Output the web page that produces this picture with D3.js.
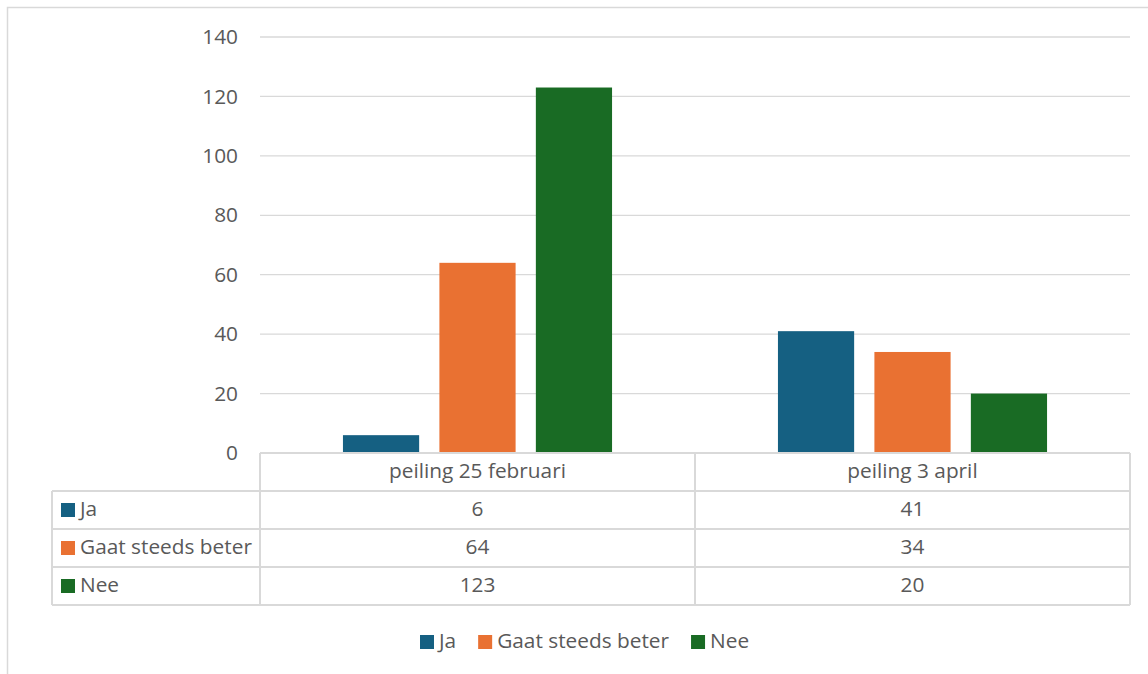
<!DOCTYPE html>
<html><head><meta charset="utf-8">
<script src="https://cdn.jsdelivr.net/npm/d3@7"></script>
<style>body{margin:0;background:#fff}svg{display:block}</style>
</head><body>
<svg id="c" width="1148" height="674"></svg>
<script>
const categories = ["peiling 25 februari", "peiling 3 april"];
const seriesNames = ["Ja", "Gaat steeds beter", "Nee"];
const ja = [6, 41];
const gaat = [64, 34];
const nee = [123, 20];
const yTicks = [0, 20, 40, 60, 80, 100, 120, 140];
const colors = ["#156082", "#E97132", "#196B24"];
const values = [ja, gaat, nee];

(function(){
const svg = d3.select("#c");
const font = "'Open Sans', 'Noto Sans', sans-serif";
const txt = "#595959", grid = "#d9d9d9";

const probe = svg.append("text").attr("font-family",font).attr("font-size",100).text("Gaat steeds beter");
const fs = Math.min(24, Math.max(14, 172 / probe.node().getComputedTextLength() * 100));
probe.remove();

svg.append("rect").attr("x",7.5).attr("y",7.5).attr("width",1200).attr("height",700)
  .attr("fill","none").attr("stroke",grid).attr("stroke-width",1.5);

const x0 = d3.scaleBand().domain(categories).range([260,1130]);
const x1 = d3.scaleBand().domain(seriesNames).range([0,x0.bandwidth()]).paddingInner(0.21).paddingOuter(0.86);
const y = d3.scaleLinear().domain([0,140]).range([453,37]);

svg.append("g").selectAll("line").data(yTicks.filter(d=>d>0)).join("line")
  .attr("x1",260).attr("x2",1130).attr("y1",d=>y(d)).attr("y2",d=>y(d))
  .attr("stroke",grid).attr("stroke-width",1.3);

const yAxis = d3.axisLeft(y).tickValues(yTicks).tickSize(0).tickPadding(22);
const ga = svg.append("g").attr("transform","translate(260,0)").call(yAxis);
ga.select(".domain").remove();
ga.selectAll("text").attr("font-family",font).attr("font-size",fs).attr("fill",txt);

const g = svg.append("g");
categories.forEach((c,ci)=>{
  seriesNames.forEach((s,si)=>{
    g.append("rect").attr("x",x0(c)+x1(s)).attr("width",x1.bandwidth())
      .attr("y",y(values[si][ci])).attr("height",y(0)-y(values[si][ci]))
      .attr("fill",colors[si]);
  });
});

const rowH = 38;
const t0 = y(0);
const tbl = svg.append("g").attr("stroke",grid).attr("stroke-width",2).attr("fill","none");
tbl.append("line").attr("x1",260).attr("x2",1130).attr("y1",t0).attr("y2",t0);
for(let r=1;r<=4;r++){
  tbl.append("line").attr("x1",52).attr("x2",1130).attr("y1",t0+r*rowH).attr("y2",t0+r*rowH);
}
tbl.append("line").attr("x1",52).attr("x2",52).attr("y1",t0+rowH).attr("y2",t0+4*rowH);
[260, x0(categories[1]), 1130].forEach(xv=>{
  tbl.append("line").attr("x1",xv).attr("x2",xv).attr("y1",t0).attr("y2",t0+4*rowH);
});
categories.forEach(c=>{
  svg.append("text").attr("x",x0(c)+x0.bandwidth()/2).attr("y",t0+rowH/2+6)
    .attr("text-anchor","middle").attr("font-family",font).attr("font-size",fs).attr("fill",txt).text(c);
});
seriesNames.forEach((s,si)=>{
  const ry = t0+(si+1)*rowH;
  svg.append("rect").attr("x",61).attr("y",ry+rowH/2-7).attr("width",14).attr("height",14).attr("fill",colors[si]);
  svg.append("text").attr("x",80).attr("y",ry+rowH/2+6).attr("font-family",font).attr("font-size",fs).attr("fill",txt).text(s);
  categories.forEach((c,ci)=>{
    svg.append("text").attr("x",x0(c)+x0.bandwidth()/2).attr("y",ry+rowH/2+6)
      .attr("text-anchor","middle").attr("font-family",font).attr("font-size",fs).attr("fill",txt).text(values[si][ci]);
  });
});

const leg = svg.append("g");
let lx = 420;
seriesNames.forEach((s,si)=>{
  leg.append("rect").attr("x",lx).attr("y",635).attr("width",14).attr("height",14).attr("fill",colors[si]);
  const t = leg.append("text").attr("x",lx+19).attr("y",648).attr("font-family",font).attr("font-size",fs).attr("fill",txt).text(s);
  lx += 19 + t.node().getComputedTextLength() + 22;
});
})();
</script>
</body></html>
